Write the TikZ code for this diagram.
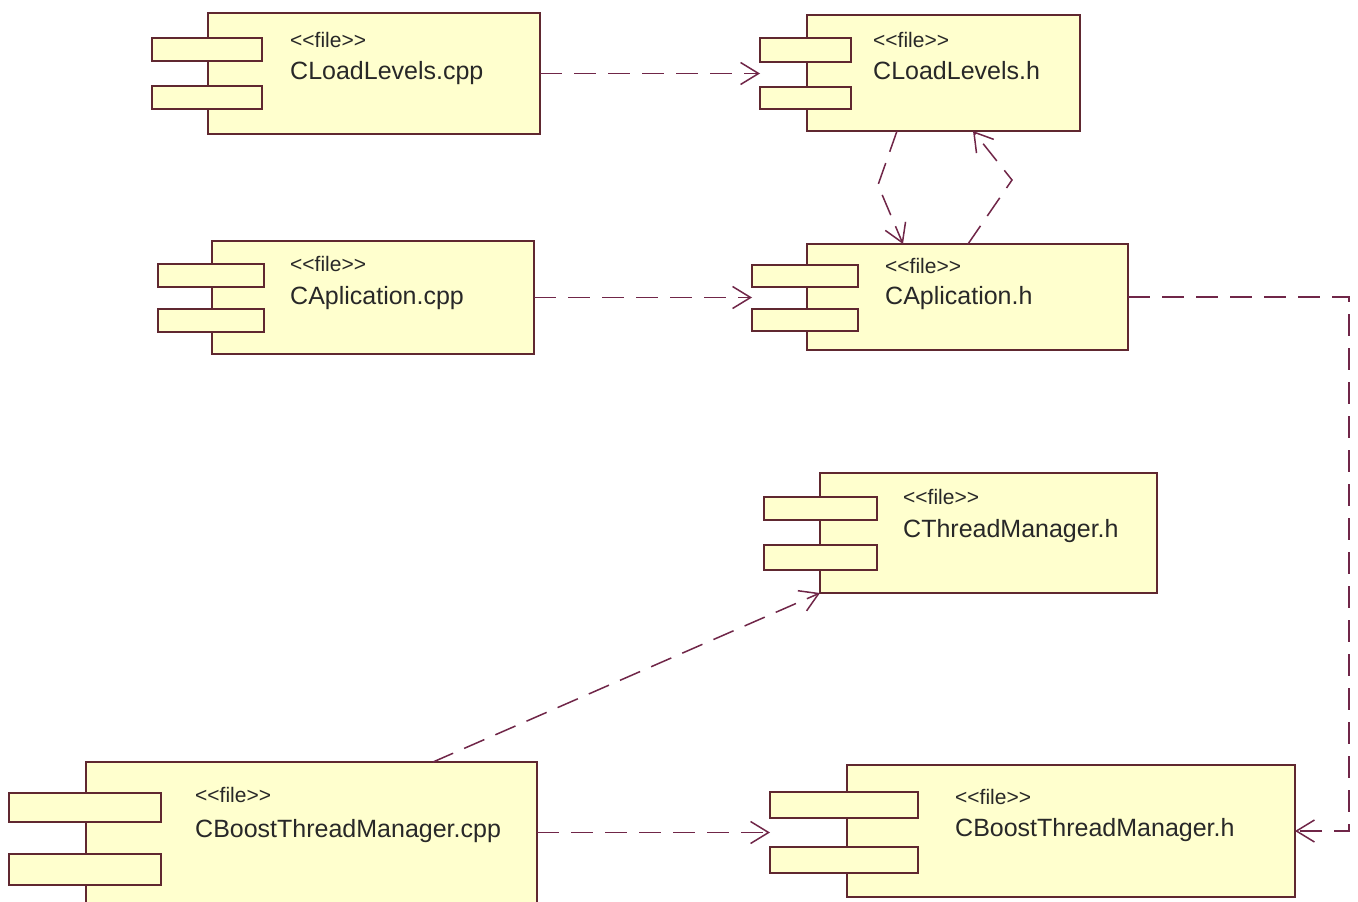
\documentclass[tikz,border=0pt]{standalone}
\usepackage{fontspec}
\setmainfont{Liberation Sans}
\usetikzlibrary{arrows.meta,fit}
\definecolor{boxfill}{RGB}{255,255,206}
\definecolor{boxline}{RGB}{96,40,48}
\definecolor{depline}{RGB}{112,38,72}
\definecolor{txt}{RGB}{40,40,40}
% stereotype text, kerns keep the angle brackets from merging into guillemets
\newcommand{\filestereo}{<\kern0pt<file>\kern0pt>}
\tikzset{
  body/.style={draw=boxline, fill=boxfill, line width=1.8pt, inner sep=0pt, outer sep=0pt},
  tab/.style={body},
  stereo/.style={anchor=base west, inner sep=0pt, text=txt, font=\fontsize{21}{24}\selectfont},
  fname/.style={anchor=base west, inner sep=0pt, text=txt, font=\fontsize{25}{30}\selectfont},
  dep/.style={draw=depline, line width=1.5pt, dash pattern=on 22pt off 12pt,
    -{Straight Barb[length=18pt,width=22pt,line width=1.5pt]}},
}
\begin{document}
\begin{tikzpicture}[x=1pt,y=-1pt]
\useasboundingbox (0,0) rectangle (1358,902);
\fill[white] (0,0) rectangle (1358,902);
\clip (0,0) rectangle (1358,902);

% CLoadLevels.cpp
\node[body, fit={(208,13) (540,134)}] (clcpp) {};
\node[tab, fit={(152,38) (262,61)}] (clcppA) {};
\node[tab, fit={(152,86) (262,109)}] (clcppB) {};
\node[stereo] (clcppS) at (290,47) {\filestereo};
\node[fname] (clcppN) at (290,79) {CLoadLevels.cpp};

% CLoadLevels.h
\node[body, fit={(807,15) (1080,131)}] (clh) {};
\node[tab, fit={(760,38) (851,62)}] (clhA) {};
\node[tab, fit={(760,87) (851,109)}] (clhB) {};
\node[stereo] (clhS) at (873,47) {\filestereo};
\node[fname] (clhN) at (873,79) {CLoadLevels.h};

% CAplication.cpp
\node[body, fit={(212,241) (534,354)}] (capp) {};
\node[tab, fit={(158,264) (264,287)}] (cappA) {};
\node[tab, fit={(158,309) (264,332)}] (cappB) {};
\node[stereo] (cappS) at (290,271) {\filestereo};
\node[fname] (cappN) at (290,304) {CAplication.cpp};

% CAplication.h
\node[body, fit={(807,244) (1128,350)}] (cah) {};
\node[tab, fit={(752,265) (858,287)}] (cahA) {};
\node[tab, fit={(752,309) (858,331)}] (cahB) {};
\node[stereo] (cahS) at (885,273) {\filestereo};
\node[fname] (cahN) at (885,304) {CAplication.h};

% CThreadManager.h
\node[body, fit={(820,473) (1157,593)}] (ctm) {};
\node[tab, fit={(764,497) (877,520)}] (ctmA) {};
\node[tab, fit={(764,545) (877,570)}] (ctmB) {};
\node[stereo] (ctmS) at (903,504) {\filestereo};
\node[fname] (ctmN) at (903,537) {CThreadManager.h};

% CBoostThreadManager.cpp
\node[body, fit={(86,762) (537,903)}] (cbtcpp) {};
\node[tab, fit={(9,793) (161,822)}] (cbtcppA) {};
\node[tab, fit={(9,854) (161,885)}] (cbtcppB) {};
\node[stereo] (cbtcppS) at (195,802) {\filestereo};
\node[fname] (cbtcppN) at (195,837) {CBoostThreadManager.cpp};

% CBoostThreadManager.h
\node[body, fit={(847,765) (1295,897)}] (cbth) {};
\node[tab, fit={(770,792) (918,818)}] (cbthA) {};
\node[tab, fit={(770,847) (918,873)}] (cbthB) {};
\node[stereo] (cbthS) at (955,804) {\filestereo};
\node[fname] (cbthN) at (955,836) {CBoostThreadManager.h};

% bend points of the two curved dependencies
\coordinate (b1) at (878,185);
\coordinate (b2) at (1012,180);

% dependencies
\draw[dep] (clcpp.east) -- (clcpp.east -| clhA.west);
\draw[dep] (capp.east) -- (capp.east -| cahA.west);
\draw[dep] (cbtcpp.east) -- (cbtcpp.east -| cbthA.west);
\draw[dep] (cah.east) -- ++(221,0) |- (cbth.east);
\draw[dep] ([xshift=90pt]clh.south west) -- (b1) -- ([xshift=96pt]cah.north west);
\draw[dep] ([xshift=161pt]cah.north west) -- (b2) -- ([xshift=166pt]clh.south west);
\draw[dep] ([xshift=347pt]cbtcpp.north west) -- (ctm.south west);
\end{tikzpicture}
\end{document}
